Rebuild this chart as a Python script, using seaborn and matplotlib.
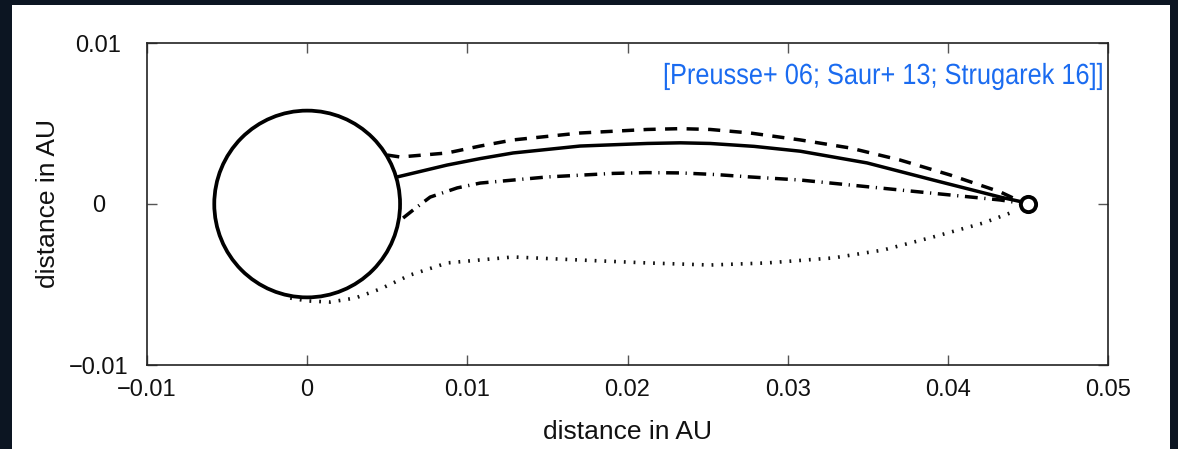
import numpy as np
import pandas as pd
import matplotlib
matplotlib.use("Agg")
import matplotlib.pyplot as plt
from matplotlib.patches import Circle, Rectangle
from matplotlib.patheffects import AbstractPathEffect
from matplotlib.transforms import Affine2D
import seaborn as sns

# Star (at origin) and planet position, in AU
star_radius = 0.0058
planet_x = [0.045]
planet_y = [0.0]

# Field line traces connecting planet and star (x, y in AU)
solid_x = [0.00562, 0.00874, 0.0108, 0.01286, 0.01704, 0.02123, 0.0233, 0.02516, 0.0279, 0.03078, 0.03496,
           0.03908, 0.04327, 0.04495, 0.045]
solid_y = [0.00168, 0.00242, 0.00282, 0.00317, 0.00360, 0.00376, 0.0038, 0.00376, 0.00358, 0.00328, 0.00255,
           0.00149, 0.00043, 0.00006, 0.0]

dashed_x = [0.0050, 0.00581, 0.00874, 0.0108, 0.01286, 0.01704, 0.02123, 0.0233, 0.02516, 0.02766, 0.03078,
            0.0339, 0.03702, 0.04015, 0.04327, 0.04408, 0.0448]
dashed_y = [0.00304, 0.00292, 0.00317, 0.0036, 0.00398, 0.00441, 0.00463, 0.00468, 0.00463, 0.00441, 0.00398,
            0.00348, 0.00273, 0.0018, 0.00075, 0.00037, 0.0001]

dashdot_x = [0.00599, 0.00662, 0.00768, 0.00937, 0.0108, 0.01498, 0.0191, 0.0212, 0.0233, 0.0255, 0.02766,
             0.03078, 0.0339, 0.03702, 0.04015, 0.04327, 0.0445]
dashdot_y = [-0.00087, -0.00037, 0.00043, 0.001, 0.0013, 0.00168, 0.0019, 0.00195, 0.00193, 0.00183, 0.00168,
             0.00149, 0.00118, 0.00087, 0.00056, 0.00025, 0.00006]

dotted_x = [-0.00106, 0.0, 0.00144, 0.0030, 0.00456, 0.00643, 0.00874, 0.01286, 0.01704, 0.02123,
            0.02516, 0.02872, 0.03284, 0.03596, 0.03908, 0.04221, 0.04389]
dotted_y = [-0.00584, -0.00602, -0.00609, -0.00584, -0.00528, -0.00441, -0.00366, -0.00329, -0.00348, -0.00366,
            -0.00379, -0.00366, -0.00335, -0.00286, -0.00205, -0.00118, -0.00056]

x_ticks = [-0.01, 0.0, 0.01, 0.02, 0.03, 0.04, 0.05]
x_tick_labels = ["\u22120.01", "0", "0.01", "0.02", "0.03", "0.04", "0.05"]
y_ticks = [-0.01, 0.0, 0.01]
y_tick_labels = ["\u22120.01", "0", "0.01"]

citation = "[Preusse+ 06; Saur+ 13; Strugarek 16]]"

sns.set_theme(style="white")
plt.rcParams["font.family"] = ["Liberation Sans", "DejaVu Sans"]


class HorizontalSqueeze(AbstractPathEffect):
    """Narrow the glyphs of a text horizontally about its start point."""

    def __init__(self, sx):
        super().__init__()
        self.sx = sx

    def draw_path(self, renderer, gc, tpath, affine, rgbFace=None):
        m = affine.get_matrix()
        x0, y0 = m[0, 2], m[1, 2]
        squeezed = affine + Affine2D().translate(-x0, -y0).scale(self.sx, 1.0).translate(x0, y0)
        renderer.draw_path(gc, tpath, squeezed, rgbFace)


W, H = 1178, 449
fig = plt.figure(figsize=(W / 100, H / 100), dpi=100, facecolor="#0c1522")
# white slide panel behind the axes
fig.patches.append(Rectangle((12 / W, 0), (1170 - 12) / W, 444 / H,
                             transform=fig.transFigure, facecolor="white",
                             edgecolor="none", zorder=-10))

ax_l, ax_r, ax_t, ax_b = 147, 1108, 43, 365
ax = fig.add_axes([ax_l / W, (H - ax_b) / H, (ax_r - ax_l) / W, (ax_b - ax_t) / H])
ax.set_zorder(1)
ax.set_facecolor("white")

lw = 2.5
sns.lineplot(x=solid_x, y=solid_y, sort=False, ax=ax, color="black", lw=lw)
l2 = sns.lineplot(x=dashed_x, y=dashed_y, sort=False, ax=ax, color="black", lw=lw).lines[-1]
l2.set_dashes((3.5, 2.7))
l3 = sns.lineplot(x=dashdot_x, y=dashdot_y, sort=False, ax=ax, color="black", lw=lw).lines[-1]
l3.set_dashes((3.7, 1.9, 0.35, 1.9))
l4 = sns.lineplot(x=dotted_x, y=dotted_y, sort=False, ax=ax, color="#111111", lw=2.6).lines[-1]
l4.set_dashes((0.5, 2.2))

ax.add_patch(Circle((0, 0), star_radius, facecolor="none", edgecolor="black", lw=2.7, zorder=3))
sns.scatterplot(x=planet_x, y=planet_y, ax=ax, s=120, facecolor="white",
                edgecolor="black", linewidth=2.8, zorder=4)

ax.set_xlim(-0.01, 0.05)
ax.set_ylim(-0.01, 0.01)
ax.set_xticks(x_ticks)
ax.set_xticklabels(x_tick_labels)
ax.set_yticks(y_ticks)
ax.set_yticklabels(y_tick_labels, ha="center")
ax.tick_params(direction="in", length=7, width=1.0, color="#555555",
               top=True, right=True, bottom=True, left=True,
               labelsize=17, labelcolor="#111111")
ax.tick_params(axis="x", pad=10)
ax.tick_params(axis="y", pad=35)
for s in ax.spines.values():
    s.set_color("#222222")
    s.set_linewidth(1.2)

ax.set_xlabel("distance in AU", fontsize=19, color="#111111", labelpad=14)
ax.set_ylabel("distance in AU", fontsize=19, color="#111111", labelpad=6)

# citation in a narrow sans face, right edge near the right spine
cite_size = 21
cite_right_px = 1103
cite_base_px = 84
cite = ax.text(0, 0, citation, transform=ax.transAxes, ha="left", va="baseline",
               color="#1a6bf0", fontsize=cite_size)
fig.canvas.draw()
w = cite.get_window_extent().width
sx = 440 / w
cite.set_path_effects([HorizontalSqueeze(sx)])
cite.set_position(((cite_right_px - sx * w - ax_l) / (ax_r - ax_l),
                   (ax_b - cite_base_px) / (ax_b - ax_t)))

fig.savefig("out.png", dpi=100, facecolor=fig.get_facecolor())
